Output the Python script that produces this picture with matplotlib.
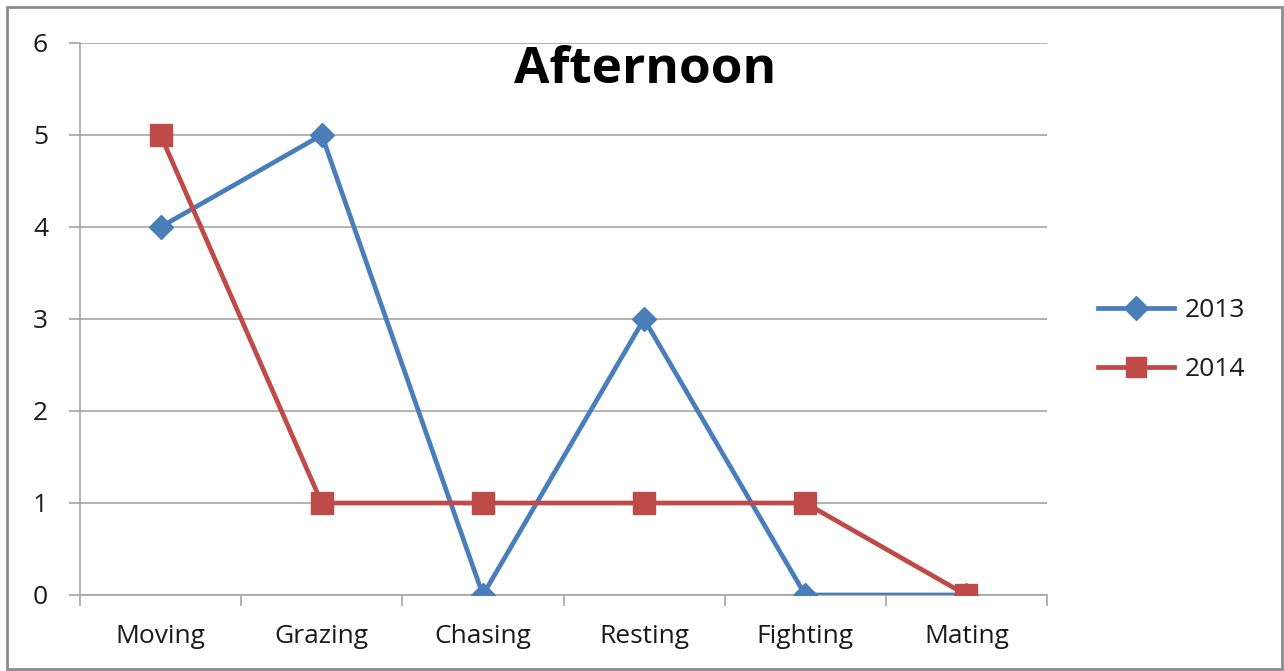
import matplotlib
matplotlib.use("Agg")
import matplotlib.pyplot as plt
from matplotlib.patches import Rectangle
from matplotlib.lines import Line2D

categories = ["Moving", "Grazing", "Chasing", "Resting", "Fighting", "Mating"]
series_2013 = [4, 5, 0, 3, 0, 0]
series_2014 = [5, 1, 1, 1, 1, 0]
y_ticks = [0, 1, 2, 3, 4, 5, 6]

plt.rcParams['font.family'] = ['Open Sans', 'DejaVu Sans']

blue = "#4A7EBB"
red = "#BE4B48"
grid_c = "#A6A6A6"
text_c = "#1A1A1A"

fig = plt.figure(figsize=(12.84, 6.71), dpi=100)
ax = fig.add_axes([80 / 1284, 1 - 595 / 671, (1047 - 80) / 1284, (595 - 43) / 671])

x = [i + 0.5 for i in range(len(categories))]
ax.plot(x, series_2013, color=blue, lw=3.4, marker="D", ms=12,
        markerfacecolor=blue, markeredgecolor=blue, zorder=3, label="2013")
ax.plot(x, series_2014, color=red, lw=3.4, marker="s", ms=16,
        markerfacecolor=red, markeredgecolor=red, zorder=4, label="2014")

ax.set_xlim(0, len(categories))
ax.set_ylim(0, 6)
ax.set_yticks(y_ticks)
ax.set_yticklabels([str(v) for v in y_ticks])
ax.yaxis.grid(True, color=grid_c, lw=1.2)
ax.set_axisbelow(True)

# category labels centred, tick marks on category boundaries
ax.set_xticks(range(len(categories) + 1))
ax.set_xticklabels([])
ax.set_xticks(x, minor=True)
ax.set_xticklabels(categories, minor=True)
ax.tick_params(axis="x", which="minor", length=0, pad=21, labelsize=19, labelcolor=text_c)
ax.tick_params(axis="x", which="major", length=8, width=1.2, color=grid_c, direction="out")
ax.tick_params(axis="y", length=8, width=1.2, color=grid_c, pad=15, labelsize=19, labelcolor=text_c)

for side in ("top", "right"):
    ax.spines[side].set_visible(False)
for side in ("left", "bottom"):
    ax.spines[side].set_color(grid_c)
    ax.spines[side].set_linewidth(1.2)

fig.text(645 / 1284, 1 - 70 / 671, "Afternoon", ha="center", va="center",
         fontsize=37, fontweight="bold", color="black")

handles = [
    Line2D([], [], color=blue, lw=3.4, marker="D", ms=12, markerfacecolor=blue, markeredgecolor=blue),
    Line2D([], [], color=red, lw=3.4, marker="s", ms=14, markerfacecolor=red, markeredgecolor=red),
]
fig.legend(handles, ["2013", "2014"], loc="center left",
           bbox_to_anchor=(1074 / 1284, 1 - 340 / 671), frameon=False,
           fontsize=19, handlelength=2.9, handletextpad=0.4, labelspacing=1.3,
           labelcolor=text_c)

fig.add_artist(Rectangle((7 / 1284, 2 / 671), 1275 / 1284, 662 / 671,
                         transform=fig.transFigure, fill=False,
                         edgecolor="#8C8C8C", lw=2.0))

fig.savefig("out.png", dpi=100, facecolor="white")
